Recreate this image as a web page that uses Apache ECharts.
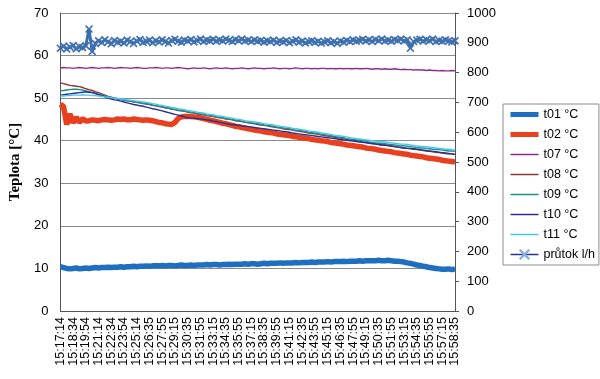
<!DOCTYPE html>
<html><head><meta charset="utf-8">
<script src="https://cdn.jsdelivr.net/npm/echarts@6/dist/echarts.min.js"></script>
<style>html,body{margin:0;padding:0;background:#fff}#c{width:600px;height:379px}</style>
</head><body><div id="c"></div>
<script>
const tickLabels = ['15:17:14','15:18:34','15:19:54','15:21:14','15:22:34','15:23:54','15:25:14','15:26:35','15:27:55','15:29:15','15:30:35','15:31:55','15:33:15','15:34:35','15:35:55','15:37:15','15:38:35','15:39:55','15:41:15','15:42:35','15:43:55','15:45:15','15:46:35','15:47:55','15:49:15','15:50:35','15:51:55','15:53:15','15:54:35','15:55:55','15:57:15','15:58:35'];
const samplesPerTick = 4;

const t01 = [10.4,10.2,10.0,9.9,10.0,10.1,9.9,10.0,10.1,10.0,
10.1,10.2,10.1,10.2,10.2,10.3,10.2,10.3,10.3,10.4,
10.3,10.4,10.4,10.5,10.4,10.5,10.5,10.6,10.5,10.6,
10.6,10.6,10.7,10.6,10.7,10.7,10.6,10.7,10.8,10.7,
10.7,10.8,10.7,10.8,10.8,10.8,10.9,10.8,10.9,10.9,
10.8,10.9,10.9,11.0,10.9,11.0,11.0,11.0,11.1,11.0,
11.1,11.1,11.0,11.1,11.2,11.1,11.2,11.2,11.2,11.3,
11.2,11.3,11.3,11.3,11.4,11.3,11.4,11.4,11.4,11.5,
11.4,11.5,11.5,11.5,11.6,11.5,11.6,11.6,11.6,11.7,
11.6,11.7,11.7,11.7,11.8,11.7,11.8,11.8,11.8,11.8,
11.9,11.8,11.8,11.9,11.8,11.7,11.7,11.6,11.5,11.3,
11.2,11.0,10.8,10.7,10.5,10.4,10.2,10.1,10.0,9.9,
9.8,9.8,9.9,9.7,9.9];

const t02 = [48.6,48.0,43.8,46.3,44.2,45.5,44.3,45.2,44.6,
44.7,44.9,44.8,44.7,44.9,45.0,44.9,44.8,44.9,45.1,45.0,45.1,44.9,44.9,45.1,45.0,44.9,44.8,44.9,44.8,44.7,
44.5,44.3,44.2,44.0,43.9,43.8,
44.3,45.2,45.6,45.7,45.7,45.7,45.6,45.5,45.4,45.2,45.0,44.8,44.7,44.5,44.3,
44.1,44.0,43.8,43.6,43.4,43.3,43.1,43.0,42.8,42.7,
42.5,42.4,42.3,42.1,42.0,41.9,41.8,41.6,41.5,41.4,
41.3,41.2,41.0,40.9,40.8,40.7,40.6,40.5,40.3,40.2,
40.1,40.0,39.9,39.8,39.6,39.5,39.4,39.3,39.2,39.0,
38.9,38.8,38.7,38.6,38.5,38.3,38.2,38.1,38.0,37.8,
37.7,37.6,37.5,37.4,37.2,37.1,37.0,36.9,36.8,36.6,
36.5,36.4,36.3,36.2,36.0,35.9,35.8,35.7,35.6,35.4,
35.3,35.2,35.1,35.0];

const t07 = [57.1,57.2,57.1,57.1,57.0,57.1,57.2,57.1,57.0,57.1,
57.2,57.1,57.0,57.1,57.1,57.2,57.1,57.0,57.1,57.2,
57.1,57.1,57.0,57.1,57.2,57.1,57.0,57.0,57.1,57.1,
57.2,57.1,57.0,57.1,57.1,57.0,57.1,57.2,57.1,57.0,
56.9,57.0,57.1,57.0,57.0,57.1,57.0,56.9,57.0,57.1,
57.0,57.0,57.1,57.0,56.9,57.0,57.0,57.1,57.0,56.9,
57.0,57.1,57.0,57.0,56.9,57.0,57.0,57.1,57.0,56.9,
57.0,57.0,56.9,57.0,57.1,57.0,56.9,57.0,57.0,56.9,
57.0,56.9,57.0,57.0,56.9,57.0,56.9,56.9,57.0,56.9,
57.0,56.9,56.9,57.0,56.9,56.9,57.0,56.9,56.8,56.9,
56.9,56.8,56.9,56.8,56.8,56.9,56.8,56.7,56.8,56.7,
56.7,56.6,56.7,56.6,56.6,56.5,56.6,56.5,56.5,56.4,
56.5,56.4,56.4,56.5,56.4];

const t08 = [53.6,53.4,53.2,53.0,52.9,52.8,52.7,52.5,52.2,52.0,
51.8,51.5,51.3,51.0,50.7,50.4,50.2,50.0,49.9,49.7,
49.6,49.4,49.3,49.1,49.0,48.9,48.7,48.6,48.5,48.3,
48.2,48.0,47.9,47.7,47.6,47.4,47.3,47.1,47.0,46.9,
46.7,46.6,46.5,46.3,46.2,46.1,45.9,45.8,45.7,45.5,
45.4,45.3,45.1,45.0,44.9,44.7,44.6,44.5,44.3,44.2,
44.1,44.0,43.8,43.7,43.6,43.5,43.3,43.2,43.1,43.0,
42.8,42.7,42.6,42.5,42.3,42.2,42.1,42.0,41.8,41.7,
41.6,41.5,41.3,41.2,41.1,41.0,40.8,40.7,40.6,40.5,
40.3,40.2,40.1,40.0,39.9,39.7,39.6,39.5,39.4,39.3,
39.1,39.0,38.9,38.8,38.7,38.6,38.5,38.4,38.3,38.2,
38.1,38.0,37.9,37.8,37.7,37.6,37.5,37.4,37.3,37.2,
37.1,37.0,36.9,36.9,36.8];

const t09 = [51.7,51.8,51.9,52.0,52.1,52.1,52.0,51.9,51.7,51.5,
51.3,51.1,50.9,50.7,50.5,50.3,50.1,50.0,49.8,49.7,
49.5,49.4,49.3,49.2,49.0,48.9,48.8,48.7,48.6,48.4,
48.3,48.1,48.0,47.8,47.7,47.5,47.4,47.2,47.1,47.0,
46.8,46.7,46.6,46.4,46.3,46.2,46.0,45.9,45.8,45.6,
45.5,45.4,45.2,45.1,45.0,44.8,44.7,44.6,44.4,44.3,
44.2,44.1,44.0,43.9,43.7,43.6,43.5,43.4,43.2,43.1,
43.0,42.9,42.8,42.6,42.5,42.4,42.3,42.2,42.0,41.9,
41.8,41.7,41.5,41.4,41.3,41.2,41.0,40.9,40.8,40.7,
40.5,40.4,40.3,40.2,40.1,39.9,39.8,39.7,39.6,39.5,
39.4,39.4,39.3,39.2,39.1,39.0,38.9,38.8,38.8,38.7,
38.6,38.5,38.4,38.3,38.3,38.2,38.1,38.0,37.9,37.9,
37.8,37.7,37.6,37.6,37.5];

const t10 = [50.7,50.8,50.9,51.0,51.1,51.2,51.3,51.4,51.5,51.4,
51.3,51.1,50.8,50.6,50.3,50.0,49.8,49.6,49.5,49.3,
49.1,48.9,48.7,48.5,48.4,48.2,48.1,47.9,47.7,47.5,
47.4,47.2,47.0,46.8,46.6,46.4,46.2,46.0,45.8,45.6,
45.4,45.3,45.3,45.2,45.1,45.0,44.9,44.8,44.6,44.5,
44.3,44.2,44.0,43.9,43.8,43.7,43.6,43.5,43.4,43.3,
43.2,43.1,43.0,42.9,42.8,42.7,42.6,42.5,42.4,42.3,
42.2,42.1,42.0,41.8,41.7,41.6,41.5,41.4,41.3,41.2,
41.1,41.0,40.9,40.8,40.7,40.6,40.5,40.4,40.3,40.2,
40.1,40.0,39.9,39.8,39.7,39.6,39.5,39.4,39.3,39.2,
39.1,39.0,39.0,38.9,38.8,38.6,38.5,38.4,38.3,38.2,
38.2,38.1,38.0,37.9,37.8,37.7,37.6,37.5,37.4,37.3,
37.2,37.1,37.0,36.9,36.8];

const t11 = [50.5,50.5,50.6,50.6,50.7,50.7,50.7,50.8,50.7,50.7,
50.6,50.6,50.5,50.4,50.3,50.2,50.1,50.0,49.9,49.8,
49.7,49.6,49.5,49.4,49.3,49.2,49.1,49.0,48.9,48.7,
48.6,48.4,48.3,48.1,48.0,47.8,47.7,47.5,47.4,47.3,
47.1,47.0,46.9,46.7,46.6,46.5,46.3,46.2,46.1,45.9,
45.8,45.7,45.5,45.4,45.3,45.1,45.0,44.9,44.7,44.6,
44.5,44.4,44.3,44.2,44.0,43.9,43.8,43.7,43.5,43.4,
43.3,43.2,43.1,42.9,42.8,42.7,42.6,42.5,42.3,42.2,
42.1,42.0,41.8,41.7,41.6,41.5,41.3,41.2,41.1,41.0,
40.9,40.7,40.6,40.5,40.4,40.3,40.2,40.1,40.0,39.9,
39.8,39.8,39.7,39.6,39.5,39.4,39.3,39.2,39.2,39.1,
39.0,38.9,38.8,38.7,38.6,38.6,38.5,38.4,38.3,38.2,
38.1,38.0,38.0,37.9,37.8];

const prutok = [882,889,879,886,891,880,887,884,890,
946,871,
898,907,901,910,903,897,908,902,905,899,
909,904,898,906,911,901,905,909,900,907,
903,910,904,899,908,912,905,902,909,906,
911,903,908,913,904,909,907,912,905,910,
906,913,908,904,911,907,913,906,909,904,
910,905,908,902,907,904,909,901,906,903,
908,900,905,910,902,906,899,904,907,901,
905,899,903,907,900,904,898,906,902,908,
904,910,905,908,912,906,910,904,911,907,
913,906,909,905,911,908,913,906,910,882,
904,909,912,905,910,907,913,904,908,905,
910,906,903,907];

const seriesNames = ['t01 °C','t02 °C','t07 °C','t08 °C','t09 °C','t10 °C','t11 °C','průtok l/h'];
const seriesColors = ['#1F6FC0','#E8401E','#8E2A94','#8A3A30','#17918A','#2C2F92','#4CC4F0','#2C2F92'];
const seriesWidths = [5.5,5.5,1.4,1.4,1.4,1.4,1.4,3];
const seriesData = [t01,t02,t07,t08,t09,t10,t11,prutok];

// category list: tick label at every samplesPerTick-th sample, blank in between
const categories = [];
tickLabels.forEach((lab, j) => {
  categories.push(lab);
  if (j < tickLabels.length - 1) for (let s = 1; s < samplesPerTick; s++) categories.push('');
});

const crossPath = 'path://M0,1.5L1.5,0L5,3.5L8.5,0L10,1.5L6.5,5L10,8.5L8.5,10L5,6.5L1.5,10L0,8.5L3.5,5Z';
const hidden = 'rgba(0,0,0,0)';

const series = seriesData.map((arr, k) => {
  const isFlow = k === 7;
  return {
    name: seriesNames[k],
    type: 'line',
    yAxisIndex: isFlow ? 1 : 0,
    data: arr,
    symbol: isFlow ? crossPath : 'none',
    symbolSize: 8,
    showSymbol: isFlow,
    showAllSymbol: true,
    animation: false,
    lineStyle: { color: isFlow ? '#3C6EAC' : seriesColors[k], width: seriesWidths[k] },
    itemStyle: { color: isFlow ? '#3F71B0' : seriesColors[k] },
    emphasis: { disabled: true },
    z: 2 + k
  };
});

const legendData = seriesNames.map((n, k) => {
  if (k === 7) {
    return { name: n, lineStyle: { width: 1.5, color: seriesColors[k] },
      itemStyle: { color: '#86AEE0', borderWidth: 0 } };
  }
  return { name: n, lineStyle: { width: k < 2 ? 5 : 1.5, color: seriesColors[k] },
    itemStyle: { color: hidden, borderColor: hidden, borderWidth: 0, opacity: 0 } };
});

const chart = echarts.init(document.getElementById('c'), null, { renderer: 'canvas' });
chart.setOption({
  animation: false,
  backgroundColor: '#fff',
  textStyle: { fontFamily: 'Liberation Sans, Arial, sans-serif' },
  grid: { left: 50, right: 145, top: 13, bottom: 68, containLabel: false },
  legend: {
    orient: 'vertical',
    left: 503, top: 104,
    padding: [4, 4, 4, 5],
    borderColor: '#8c8c8c', borderWidth: 1,
    itemWidth: 28, itemHeight: 14, itemGap: 7, itemTextGap: 2,
    textStyle: { fontSize: 12.5, color: '#000', fontFamily: 'Liberation Sans, Arial, sans-serif' },
    data: legendData
  },
  xAxis: {
    type: 'category', data: categories, boundaryGap: false,
    axisLine: { show: true, lineStyle: { color: '#555', width: 1 } },
    axisTick: { show: false },
    splitLine: { show: false },
    axisLabel: { rotate: 90, interval: 0, fontSize: 12.5, color: '#000', margin: 6 }
  },
  yAxis: [
    {
      type: 'value', min: 0, max: 70, interval: 10,
      name: 'Teplota [°C]', nameLocation: 'middle', nameGap: 33,
      nameTextStyle: { fontFamily: 'Liberation Serif, Times New Roman, serif', fontWeight: 'bold', fontSize: 15, color: '#000' },
      axisLine: { show: true, lineStyle: { color: '#555' } },
      axisTick: { show: false },
      splitLine: { show: true, lineStyle: { color: '#8a8a8a', width: 1 } },
      axisLabel: { fontSize: 13, color: '#000', margin: 12 }
    },
    {
      type: 'value', min: 0, max: 1000, interval: 100, position: 'right',
      axisLine: { show: true, lineStyle: { color: '#555' } },
      axisTick: { show: true, length: 4, lineStyle: { color: '#555' } },
      splitLine: { show: false },
      axisLabel: { fontSize: 13, color: '#000', margin: 12, formatter: v => String(v) }
    }
  ],
  series: series
});
</script></body></html>
